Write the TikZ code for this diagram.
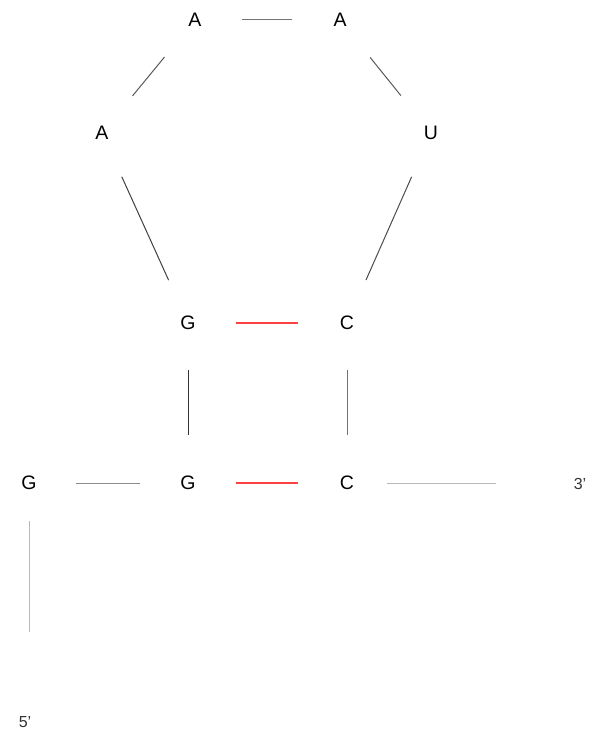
\documentclass[tikz,border=0pt]{standalone}
\usepackage{fontspec}
\setmainfont{Liberation Sans}
\begin{document}
\begin{tikzpicture}[x=1pt,y=-1pt,
  base/.style={font=\fontsize{19.5}{21}\selectfont, text=black, inner sep=0pt},
  endlabel/.style={font=\fontsize{16}{18}\selectfont, text=black!80, inner sep=0pt},
  bond/.style={line width=1pt},
  pair/.style={line width=1.6pt, draw={rgb,255:red,255;green,64;blue,64}}]
\useasboundingbox (0,0) rectangle (598,733);
\node[base] (A1) at (195,20) {A};
\node[base] (A2) at (340,20) {A};
\node[base] (A3) at (102,133) {A};
\node[base] (U) at (431,133) {U};
\node[base] (G1) at (188,323) {G};
\node[base] (C1) at (347,323) {C};
\node[base] (G2) at (188,483) {G};
\node[base] (C2) at (347,483) {C};
\node[base] (G3) at (29,483) {G};
\node[endlabel] (three) at (580,484) {3'};
\node[endlabel] (five) at (25,722) {5'};
\draw[bond, draw=black!55, shorten <=47pt, shorten >=48pt] (A1.center) -- (A2.center);
\draw[bond, draw=black!65, shorten <=48pt, shorten >=48pt] (A1.center) -- (A3.center);
\draw[bond, draw=black!65, shorten <=48pt, shorten >=48pt] (A2.center) -- (U.center);
\draw[bond, draw=black!75, shorten <=48pt, shorten >=47pt] (A3.center) -- (G1.center);
\draw[bond, draw=black!70, shorten <=48pt, shorten >=47pt] (U.center) -- (C1.center);
\draw[pair, shorten <=48pt, shorten >=49pt] (G1.center) -- (C1.center);
\draw[pair, shorten <=48pt, shorten >=49pt] (G2.center) -- (C2.center);
\draw[bond, draw=black!80, shorten <=47pt, shorten >=48pt] (G1.center) -- (G2.center);
\draw[bond, draw=black!55, shorten <=47pt, shorten >=48pt] (C1.center) -- (C2.center);
\draw[bond, draw=black!45, shorten <=47pt, shorten >=48pt] (G3.center) -- (G2.center);
\draw[bond, draw=black!28, shorten <=40pt, shorten >=84pt] (C2.center) -- (C2.center -| three.center);
\draw[bond, draw=black!28, shorten <=38pt, shorten >=90pt] (G3.center) -- (G3.center |- five.center);
\end{tikzpicture}
\end{document}
